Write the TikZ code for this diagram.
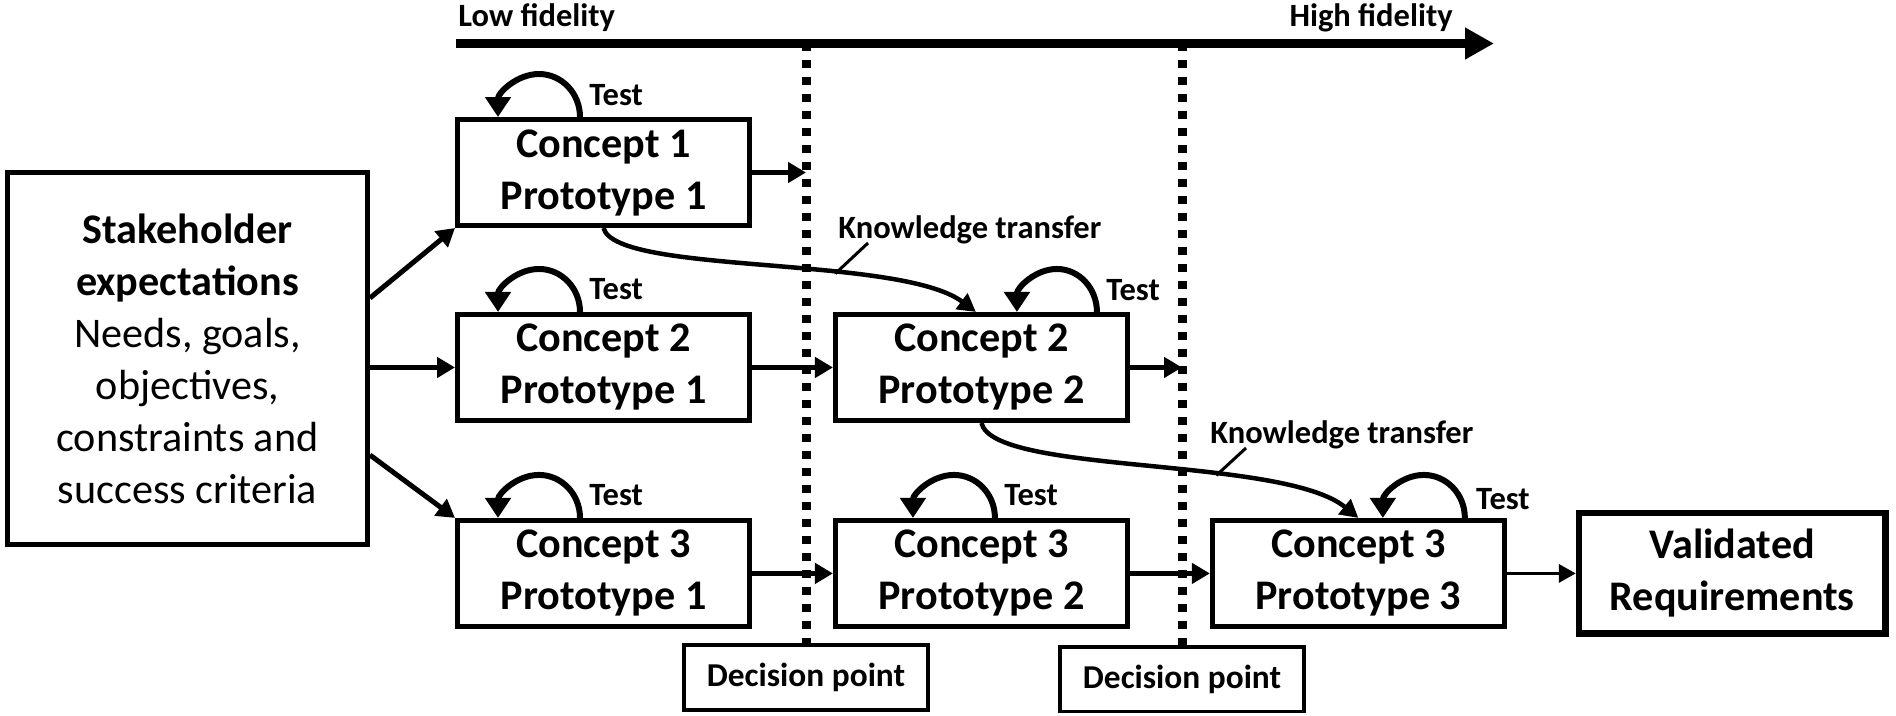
\documentclass[tikz,border=0pt]{standalone}
\usepackage{fontspec}
\setmainfont{Carlito}
\usetikzlibrary{positioning,arrows.meta,calc}

\begin{document}
\begin{tikzpicture}[
  x=0.02cm, y=0.02cm,
  box/.style={draw, line width=0.1cm, align=center, minimum width=5.84cm, minimum height=2.12cm, inner sep=0pt, font=\bfseries\fontsize{24}{29.6}\selectfont},
  bigbox/.style={draw, line width=0.1cm, align=center, minimum width=7.2cm, minimum height=7.44cm, inner sep=0pt, font=\fontsize{24}{29.6}\selectfont},
  endbox/.style={draw, line width=0.13cm, align=center, minimum width=6.13cm, minimum height=2.41cm, inner sep=0pt, font=\bfseries\fontsize{24}{29.6}\selectfont},
  decbox/.style={draw, line width=0.08cm, fill=white, minimum width=4.88cm, minimum height=1.3cm, inner sep=0pt, font=\bfseries\fontsize{19}{22}\selectfont},
  lab/.style={inner sep=0pt, font=\bfseries\fontsize{18.5}{22}\selectfont},
  arr/.style={-{Triangle[length=0.36cm,width=0.4cm]}, line width=0.1cm},
  thinarr/.style={-{Triangle[length=0.34cm,width=0.36cm]}, line width=0.07cm},
  testloop/.style={-{Triangle[length=0.4cm,width=0.5cm]}, line width=0.12cm},
  ktarr/.style={-{Triangle[length=0.36cm,width=0.38cm]}, line width=0.09cm},
  leader/.style={line width=0.06cm},
  decline/.style={line width=0.18cm, dash pattern=on 0.16cm off 0.18cm},
  timeline/.style={-{Triangle[length=0.58cm,width=0.6cm]}, line width=0.18cm}
]
  \useasboundingbox (0,0) rectangle (1896,-716);

  \node[bigbox] (sh) at (187.5,-358.5) {\textbf{Stakeholder}\\\textbf{expectations}\\Needs, goals,\\objectives,\\constraints and\\success criteria};
  \node[box] (c11) at (603.5,-172.5) {Concept 1\\Prototype 1};
  \node[box, below=1.68cm of c11] (c21) {Concept 2\\Prototype 1};
  \node[box, below=1.9cm of c21] (c31) {Concept 3\\Prototype 1};
  \node[box, right=1.62cm of c21] (c22) {Concept 2\\Prototype 2};
  \node[box, right=1.62cm of c31] (c32) {Concept 3\\Prototype 2};
  \node[box, right=1.6cm of c32] (c33) {Concept 3\\Prototype 3};
  \node[endbox, right=1.38cm of c33] (val) {Validated\\Requirements};
  \node[decbox] (dec1) at (806,-677.5) {Decision point};
  \node[decbox] (dec2) at (1182,-679) {Decision point};

  \coordinate (tl0) at (456,-43.5);
  \coordinate (tl1) at (1494,-43.5);
  \node[lab, anchor=base west] (lofi) at (458,-27) {Low fidelity};
  \node[lab, anchor=base east] (hifi) at (1453,-27) {High fidelity};

  \draw[decline] (dec1.north |- tl0) -- (dec1.north);
  \draw[decline] (dec2.north |- tl0) -- (dec2.north);
  \draw[timeline] (tl0) -- (tl1);

  \draw[arr] ($(sh.east)+(0,60.5)$) -- (c11.south west);
  \draw[arr] (sh.east |- c21.west) -- (c21.west);
  \draw[arr] ($(sh.east)+(0,-96.5)$) -- (c31.north west);
  \draw[arr] (c11.east) -- (c11.east -| dec1.north);
  \draw[arr] (c21) -- (c22);
  \draw[arr] (c22.east) -- (c22.east -| dec2.north);
  \draw[arr] (c31) -- (c32);
  \draw[arr] (c32) -- (c33);
  \draw[thinarr] (c33) -- (val);

  \draw[testloop] ($(c11.north)+(-23.5,0)$) arc[start angle=0, end angle=180, x radius=0.82cm, y radius=0.86cm];
  \draw[testloop] ($(c21.north)+(-23.5,0)$) arc[start angle=0, end angle=180, x radius=0.82cm, y radius=0.86cm];
  \draw[testloop] ($(c31.north)+(-23.5,0)$) arc[start angle=0, end angle=180, x radius=0.82cm, y radius=0.86cm];
  \draw[testloop] ($(c22.north)+(115.5,0)$) arc[start angle=0, end angle=180, x radius=0.8cm, y radius=0.86cm];
  \draw[testloop] ($(c32.north)+(13.5,0)$) arc[start angle=0, end angle=180, x radius=0.82cm, y radius=0.86cm];
  \draw[testloop] ($(c33.north)+(106.5,0)$) arc[start angle=0, end angle=180, x radius=0.82cm, y radius=0.86cm];
  \node[lab, anchor=base west] (t11) at ($(c11.north)+(-14.5,12)$) {Test};
  \node[lab, anchor=base west] (t21) at ($(c21.north)+(-14.5,12)$) {Test};
  \node[lab, anchor=base west] (t31) at ($(c31.north)+(-14.5,12)$) {Test};
  \node[lab, anchor=base west] (t22) at ($(c22.north)+(124.5,11)$) {Test};
  \node[lab, anchor=base west] (t32) at ($(c32.north)+(22.5,12)$) {Test};
  \node[lab, anchor=base west] (t33) at ($(c33.north)+(117.5,8)$) {Test};

  \draw[ktarr] (c11.south) .. controls +(12,-47) and +(-76,57) .. coordinate[pos=0.64] (kp1) ($(c22.north)+(-5.5,0)$);
  \draw[ktarr] (c22.south) .. controls +(12,-52) and +(-76,62) .. coordinate[pos=0.64] (kp2) (c33.north);
  \node[lab, anchor=base west] (kt1) at (838,-238) {Knowledge transfer};
  \node[lab, anchor=base west] (kt2) at (1210,-443) {Knowledge transfer};
  \draw[leader] (kp1) -- ([xshift=0.6cm,yshift=-0.1cm]kt1.base west);
  \draw[leader] (kp2) -- ([xshift=0.72cm,yshift=-0.1cm]kt2.base west);
\end{tikzpicture}
\end{document}
